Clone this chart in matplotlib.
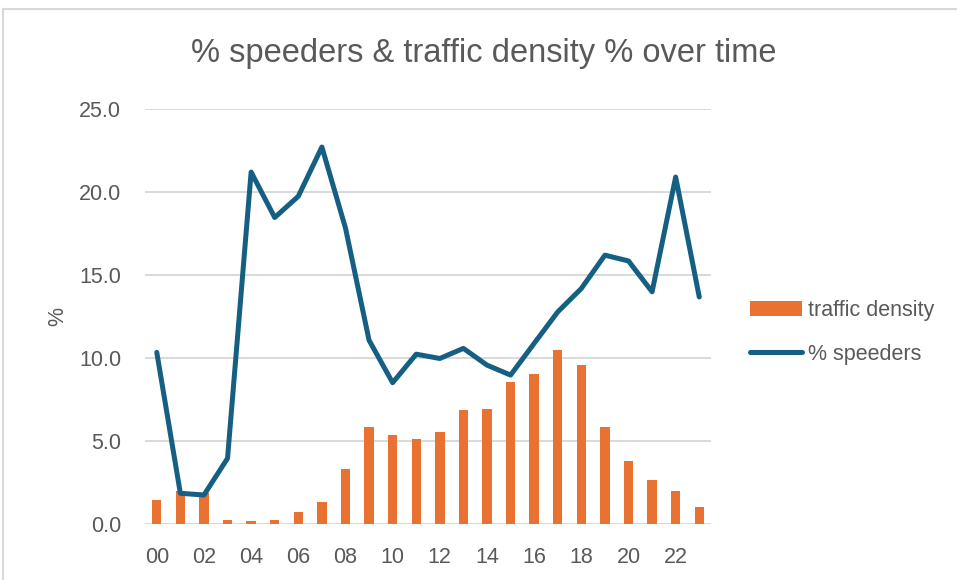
import matplotlib.pyplot as plt
import numpy as np
from matplotlib.lines import Line2D

# hours of the day
hours = ['00', '01', '02', '03', '04', '05', '06', '07', '08', '09', '10', '11',
         '12', '13', '14', '15', '16', '17', '18', '19', '20', '21', '22', '23']

# traffic density % per hour (bars)
density = [1.43, 1.96, 1.83, 0.22, 0.14, 0.22, 0.72, 1.29, 3.30, 5.80, 5.36, 5.10,
           5.50, 6.83, 6.89, 8.54, 9.02, 10.48, 9.56, 5.83, 3.78, 2.61, 1.95, 1.00]

# % speeders per hour (line)
speeders = [10.33, 1.83, 1.73, 3.94, 21.20, 18.46, 19.74, 22.71, 17.83, 11.06, 8.50, 10.22,
            9.96, 10.57, 9.56, 8.96, 10.87, 12.77, 14.18, 16.19, 15.84, 13.98, 20.90, 13.67]

yticks = [0, 5, 10, 15, 20, 25]

grey = '#595959'
orange = '#E97132'
teal = '#156082'

plt.rcParams['font.family'] = ['Liberation Sans', 'DejaVu Sans']

fig = plt.figure(figsize=(9.57, 5.80), dpi=100)
ax = fig.add_axes([0.1515, 0.0971, 0.5915, 0.7149])

x = np.arange(len(hours))
bars = ax.bar(x, density, width=0.40, color=orange, zorder=2, label='traffic density')
line, = ax.plot(x, speeders, color=teal, lw=3.6, zorder=3, solid_joinstyle='round',
                solid_capstyle='round', label='% speeders')

ax.set_xlim(-0.5, len(hours) - 0.5)
ax.set_ylim(0, 25)
ax.set_yticks(yticks)
ax.set_yticklabels(['%.1f' % v for v in yticks])
ax.set_xticks(x[::2])
ax.set_xticklabels(hours[::2])
ax.tick_params(axis='both', length=0, labelsize=15.5, labelcolor=grey)
ax.tick_params(axis='x', pad=17)
ax.tick_params(axis='y', pad=17)
ax.yaxis.grid(True, color='#d9d9d9', lw=1.4, zorder=0)
ax.set_axisbelow(True)
for s in ax.spines.values():
    s.set_visible(False)

ax.set_ylabel('%', fontsize=15.5, color=grey, labelpad=8)

fig.text(0.506, 0.908, '% speeders & traffic density % over time', fontsize=23.5,
         color=grey, ha='center', va='center')

leg = fig.legend(handles=[bars, line], loc='center left', bbox_to_anchor=(0.784, 0.427),
                 frameon=False, fontsize=15.5, handlelength=2.4, handleheight=0.65,
                 handletextpad=0.3, labelspacing=1.05, borderpad=0, borderaxespad=0)
for t in leg.get_texts():
    t.set_color(grey)

# outer chart border (top and left visible)
fig.add_artist(Line2D([3 / 957, 1.0], [1 - 9 / 580, 1 - 9 / 580], transform=fig.transFigure,
                      color='#d9d9d9', lw=1.5))
fig.add_artist(Line2D([3 / 957, 3 / 957], [0, 1 - 9 / 580], transform=fig.transFigure,
                      color='#d9d9d9', lw=1.5))

fig.savefig('out.png', dpi=100)
